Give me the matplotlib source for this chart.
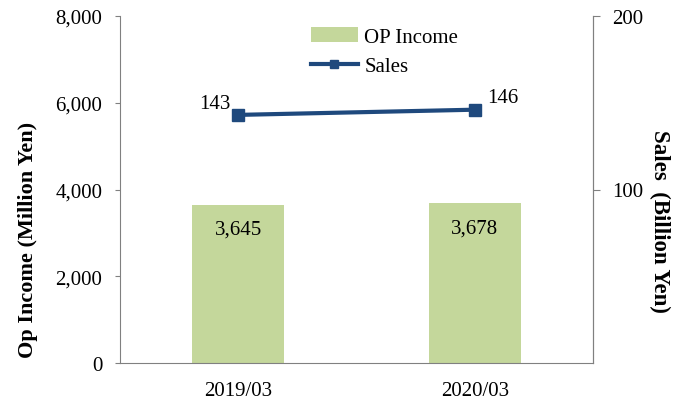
import numpy as np
import matplotlib.pyplot as plt

plt.rcParams['font.family'] = ['Liberation Serif', 'DejaVu Serif']

categories = ['2019/03', '2020/03']
op_income = [3645, 3678]
sales = [143, 146]

bar_color = '#C4D79B'
line_color = '#1F497D'
spine_color = '#808080'
fs = 15

fig = plt.figure(figsize=(6.75, 4.02), dpi=100)
ax = fig.add_axes([120 / 675, 38 / 402, 473 / 675, 347 / 402])
ax2 = ax.twinx()

x = np.arange(len(categories))
bars = ax.bar(x, op_income, width=0.39, color=bar_color, label='OP Income', zorder=2)
ax.set_xlim(-0.5, 1.5)
ax.set_ylim(0, 8000)
ax.set_yticks(np.arange(0, 8001, 2000))
ax.set_yticklabels([f'{v:,}' for v in range(0, 8001, 2000)])
ax.set_xticks(x)
ax.set_xticklabels(categories)
ax.tick_params(axis='x', length=0, pad=13, labelsize=fs)
ax.tick_params(axis='y', labelsize=fs, color=spine_color, length=3.6, pad=9)
ax.set_ylabel('Op Income (Million Yen)', fontsize=16, fontweight='bold', va='center')
ax.yaxis.set_label_coords((28 - 120) / 473, 0.357)

for xi, v in zip(x, op_income):
    ax.text(xi, v - 560, f'{v:,}', ha='center', va='center', fontsize=fs)

line, = ax2.plot(x, sales, color=line_color, lw=3, marker='s', markersize=8.5,
                 label='Sales', zorder=3)
ax2.set_ylim(0, 200)
ax2.set_yticks([100, 200])
ax2.tick_params(axis='y', labelsize=fs, color=spine_color, length=5, pad=9)
ax2.set_ylabel('Sales  (Billion Yen)', fontsize=16.5, fontweight='bold',
               rotation=270, va='center')
ax2.yaxis.set_label_coords((660 - 120) / 473, 0.41)

ax2.annotate(f'{sales[0]}', (x[0], sales[0]), xytext=(-5.8, 7.9), textcoords='offset points',
             ha='right', va='center', fontsize=fs)
ax2.annotate(f'{sales[1]}', (x[1], sales[1]), xytext=(8.6, 8.6), textcoords='offset points',
             ha='left', va='center', fontsize=fs)

for a in (ax, ax2):
    a.spines['top'].set_visible(False)
    for side in ('left', 'right', 'bottom'):
        a.spines[side].set_color(spine_color)
ax2.spines['left'].set_visible(False)
ax2.spines['bottom'].set_visible(False)

ax.legend([bars, line], ['OP Income', 'Sales'], loc='upper left',
          bbox_to_anchor=(0.386, 0.991), frameon=False, fontsize=fs,
          handlelength=2.26, handletextpad=0.3, labelspacing=0.45,
          borderaxespad=0, markerscale=0.6)

fig.savefig('out.png', dpi=100)
